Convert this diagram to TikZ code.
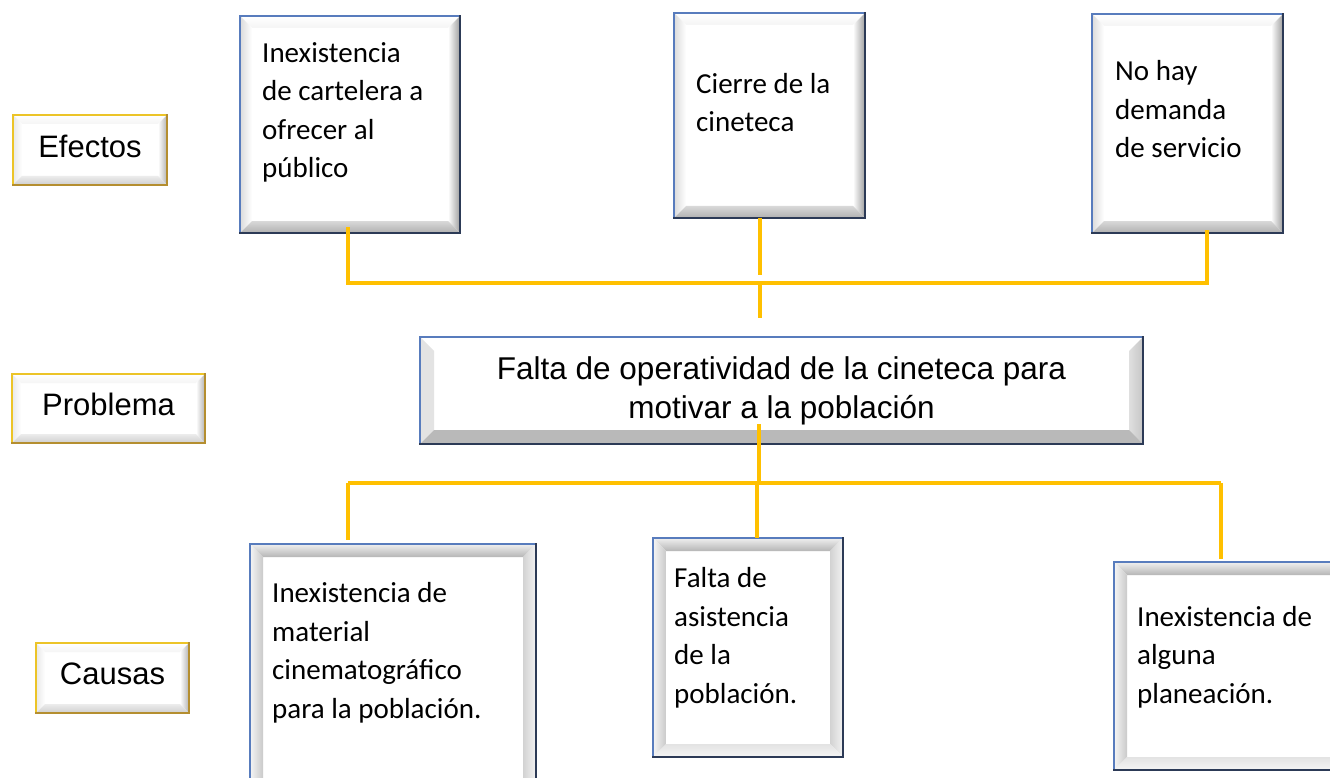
\documentclass[tikz,border=0pt]{standalone}
\usepackage{fontspec}
\setmainfont{Carlito}
\newfontfamily\arialfont{Liberation Sans}
\usepackage{xcolor}
\definecolor{boxblue}{RGB}{88,124,189}
\definecolor{boxnavy}{RGB}{44,58,86}
\definecolor{labelgold}{RGB}{236,196,40}
\definecolor{labelbrown}{RGB}{180,142,48}
\definecolor{linegold}{RGB}{255,192,0}
\usetikzlibrary{calc}
% four bevel strips inside a node: width, top, left, right, bottom
\newcommand\bevelsides[5]{%
  \path (path picture bounding box.north west) coordinate (bnw)
        (path picture bounding box.south east) coordinate (bse);
  \path (bnw -| bse) coordinate (bne) (bnw |- bse) coordinate (bsw);
  \shade[#2] (bnw) -- (bne) -- ([shift={(-#1pt,-#1pt)}]bne) -- ([shift={(#1pt,-#1pt)}]bnw) -- cycle;
  \shade[#3] (bnw) -- (bsw) -- ([shift={(#1pt,#1pt)}]bsw) -- ([shift={(#1pt,-#1pt)}]bnw) -- cycle;
  \shade[#4] (bne) -- (bse) -- ([shift={(-#1pt,#1pt)}]bse) -- ([shift={(-#1pt,-#1pt)}]bne) -- cycle;
  \shade[#5] (bsw) -- (bse) -- ([shift={(-#1pt,#1pt)}]bse) -- ([shift={(#1pt,#1pt)}]bsw) -- cycle;
}
\tikzset{
  darkside/.style={draw=#1, line width=2.5pt, line cap=rect},
  box/.style 2 args={draw=#1, line width=2.5pt, fill=white, inner sep=0pt, outer sep=0pt,
    anchor=north west,
    append after command={(\tikzlastnode.north east) edge[darkside=#2] (\tikzlastnode.south east)
      (\tikzlastnode.south east) edge[darkside=#2] (\tikzlastnode.south west)}},
  effectbox/.style={box={boxblue}{boxnavy},
    path picture={\bevelsides{12}{top color=white, bottom color=gray!8}
      {left color=gray!28, right color=white}{left color=white, right color=gray!75}
      {top color=gray!30, bottom color=gray!62}}},
  causebox/.style={box={boxblue}{boxnavy},
    path picture={\bevelsides{13}{top color=gray!12, bottom color=gray!58}
      {left color=gray!8, right color=gray!42}{left color=gray!35, right color=gray!10}
      {top color=gray!22, bottom color=gray!8}}},
  labelbox/.style={box={labelgold}{labelbrown},
    font=\arialfont\fontsize{31}{37}\selectfont, text depth=8pt,
    path picture={\bevelsides{9}{top color=white, bottom color=gray!8}
      {left color=gray!18, right color=white}{left color=white, right color=gray!60}
      {top color=gray!15, bottom color=gray!38}}},
  problembox/.style={box={boxblue}{boxnavy}, align=center,
    font=\arialfont\fontsize{31.5}{39}\selectfont,
    path picture={\bevelsides{14}{top color=white, bottom color=white}
      {left color=gray!22, right color=gray!22}{left color=gray!25, right color=gray!45}
      {top color=gray!55, bottom color=gray!55}}},
  boxtext/.style={font=\fontsize{29}{38.5}\selectfont, align=left, inner sep=0pt,
    anchor=base west},
  link/.style={draw=linegold, line width=4pt},
}
\begin{document}
\begin{tikzpicture}[x=1pt,y=-1pt]
\useasboundingbox (0,0) rectangle (1330,778);

% row labels
\node[labelbox, minimum width=154pt, minimum height=70pt] (efectos) at (13,115) {Efectos};
\node[labelbox, minimum width=193pt, minimum height=69pt] (problema) at (12,374) {Problema};
\node[labelbox, minimum width=153pt, minimum height=70pt] (causas) at (36,643) {Causas};

% effects
\node[effectbox, minimum width=220pt, minimum height=217pt] (e1) at (240,16) {};
\node[effectbox, minimum width=191pt, minimum height=205pt] (e2) at (674,13) {};
\node[effectbox, minimum width=191pt, minimum height=219pt] (e3) at (1092,14) {};
% text nodes sit on the baseline of their last line
\node[boxtext] (e1t) at ([shift={(22pt,-162pt)}]e1.north west) {Inexistencia\\de cartelera a\\ofrecer al\\público};
\node[boxtext] (e2t) at ([shift={(22pt,-119pt)}]e2.north west) {Cierre de la\\cineteca};
\node[boxtext] (e3t) at ([shift={(23pt,-144pt)}]e3.north west) {No hay\\demanda\\de servicio};

% problem
\node[problembox, minimum width=723pt, minimum height=107pt] (pb) at (420,337)
  {Falta de operatividad de la cineteca para\\motivar a la población};

% causes
\node[causebox, minimum width=286pt, minimum height=250pt] (c1) at (250,544) {};
\node[causebox, minimum width=190pt, minimum height=219pt] (c2) at (653,538) {};
\node[causebox, minimum width=230pt, minimum height=208pt] (c3) at (1114,562) {};
\node[boxtext] (c1t) at ([shift={(22pt,-174pt)}]c1.north west) {Inexistencia de\\material\\cinematográfico\\para la población.};
\node[boxtext] (c2t) at ([shift={(21pt,-165pt)}]c2.north west) {Falta de\\asistencia\\de la\\población.};
\node[boxtext] (c3t) at ([shift={(23pt,-141pt)}]c3.north west) {Inexistencia de\\alguna\\planeación.};

% connectors, effects side
\coordinate (eL) at (348,283);
\coordinate (eM) at (760,283);
\coordinate (eR) at (1207,283);
\draw[link] ([yshift=6pt]eL |- e1.south) -- (eL) -- (eR) -- ([yshift=3pt]eR |- e3.south);
\draw[link] (eM |- e2.south) -- ([yshift=8pt]eM);
\draw[link] (eM) -- ([yshift=19pt]eM |- pb.north);

% connectors, causes side
\coordinate (pM) at (759,483);
\coordinate (cL) at (348,483);
\coordinate (cM) at (757,483);
\coordinate (cR) at (1221,483);
\draw[link] ([yshift=20pt]pM |- pb.south) -- (pM);
\draw[link] (cL) -- (cR);
\draw[link] (cL) -- ([yshift=4pt]cL |- c1.north);
\draw[link] (cM) -- (cM |- c2.north);
\draw[link] (cR) -- ([yshift=3pt]cR |- c3.north);
\end{tikzpicture}
\end{document}
